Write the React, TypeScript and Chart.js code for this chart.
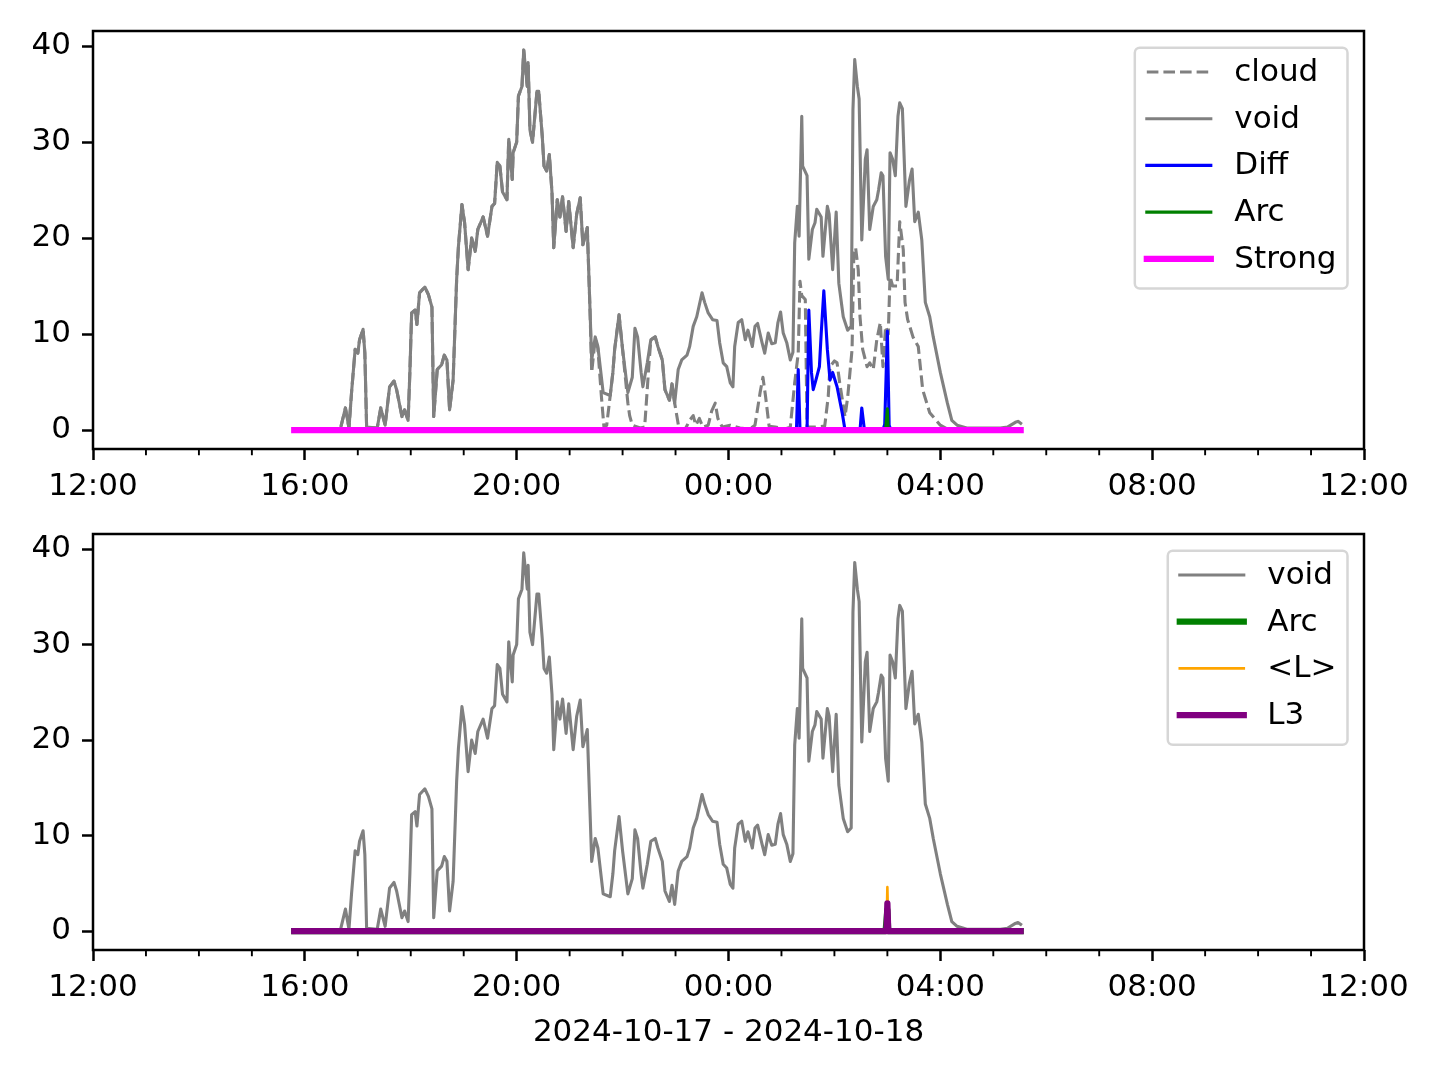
import React, { useEffect, useRef } from "react";
import { Chart, registerables } from "chart.js";

Chart.register(...registerables);

const FONT = "'DejaVu Sans', 'Liberation Sans', sans-serif";
const FONT_SIZE = 31;

// ---------------- data (times are clock times, 2024-10-17 12:00 .. 2024-10-18 12:00) ----------------
const xTickHours = [0, 4, 8, 12, 16, 20, 24];
const xTickLabels = ["12:00", "16:00", "20:00", "00:00", "04:00", "08:00", "12:00"];
const yTicks = [0, 10, 20, 30, 40];
const xLabel = "2024-10-17 - 2024-10-18";

const voidTimes = [
  "15:48", "16:40", "16:46", "16:50", "16:53", "16:57", "17:00", "17:02", "17:06", "17:08",
  "17:10", "17:22", "17:26", "17:31", "17:36", "17:41", "17:44", "17:50", "17:53", "17:57",
  "17:59", "18:01", "18:05", "18:07", "18:10", "18:16", "18:20", "18:24", "18:26", "18:30",
  "18:35", "18:38", "18:41", "18:44", "18:48", "18:52", "18:54", "18:58", "19:01", "19:05",
  "19:09", "19:13", "19:16", "19:22", "19:27", "19:32", "19:35", "19:38", "19:41", "19:44",
  "19:49", "19:51", "19:55", "19:56", "20:00", "20:02", "20:06", "20:08", "20:12", "20:13",
  "20:15", "20:18", "20:23", "20:25", "20:29", "20:31", "20:34", "20:37", "20:40", "20:42",
  "20:46", "20:49", "20:52", "20:56", "20:59", "21:04", "21:08", "21:12", "21:15", "21:20",
  "21:23", "21:25", "21:29", "21:32", "21:38", "21:46", "21:49", "21:51", "21:56", "22:00",
  "22:06", "22:11", "22:14", "22:17", "22:21", "22:23", "22:28", "22:32", "22:37", "22:40",
  "22:45", "22:48", "22:53", "22:56", "22:59", "23:03", "23:07", "23:13", "23:16", "23:20",
  "23:24", "23:30", "23:33", "23:37", "23:42", "23:47", "23:50", "23:54", "23:58", "00:02",
  "00:05", "00:07", "00:11", "00:15", "00:19", "00:22", "00:27", "00:30", "00:33", "00:38",
  "00:41", "00:45", "00:49", "00:53", "00:56", "00:59", "01:02", "01:06", "01:10", "01:13",
  "01:15", "01:18", "01:20", "01:23", "01:24", "01:29", "01:31", "01:35", "01:38", "01:40",
  "01:45", "01:47", "01:52", "01:54", "01:58", "02:02", "02:05", "02:10", "02:15", "02:19",
  "02:21", "02:23", "02:26", "02:28", "02:31", "02:35", "02:37", "02:40", "02:44", "02:48",
  "02:50", "02:53", "02:55", "02:58", "03:01", "03:03", "03:06", "03:09", "03:12", "03:14",
  "03:17", "03:21", "03:25", "03:28", "03:31", "03:35", "03:39", "03:43", "03:48", "03:52",
  "04:00", "04:08", "04:13", "04:19", "04:30", "05:08", "05:16", "05:25", "05:28", "05:31",
];
const voidValues = [
  0, 0, 2.3, 0.2, 4, 8.4, 8.0, 9.4, 10.5, 8,
  0.3, 0.2, 2.3, 0.5, 4.5, 5.1, 4.2, 1.4, 2.1, 1.0,
  6, 12.2, 12.5, 11, 14.3, 14.9, 14.1, 12.8, 1.4, 6.3,
  6.8, 7.8, 7.3, 2.1, 5.2, 15.7, 19.1, 23.5, 21.6, 16.7,
  20, 18.6, 20.9, 22.2, 20.2, 23.3, 23.6, 27.9, 27.5, 24.8,
  24, 30.3, 26.1, 28.9, 30, 34.8, 35.8, 39.6, 35.8, 38.3,
  31.3, 30, 35.3, 35.3, 30.6, 27.5, 27, 28.7, 24.8, 19,
  24, 22.2, 24.3, 20.7, 23.8, 19, 22.5, 24.2, 19.3, 21.1,
  12.8, 7.3, 9.7, 8.7, 3.9, 3.6, 6, 8.4, 12, 8.4,
  3.9, 5.5, 10.6, 9.7, 6, 4.5, 7, 9.4, 9.7, 8.7,
  7.3, 4.2, 3.1, 4.8, 2.8, 6.3, 7.3, 7.8, 8.7, 10.8,
  11.8, 14.3, 13.3, 12.2, 11.5, 11.4, 9.1, 7, 6.6, 4.9,
  4.5, 8.7, 11.2, 11.5, 9.4, 10.4, 8.7, 10.8, 11.1, 9.1,
  8, 10.1, 9.0, 9.1, 11.2, 12.3, 10.1, 9.1, 7.3, 8.1,
  19.5, 23.3, 20.2, 32.7, 27.5, 26.5, 17.8, 20.9, 21.6, 23,
  22.2, 18.1, 23.3, 22.5, 16.7, 22.7, 15.3, 11.8, 10.4, 10.8,
  33.4, 38.6, 35.8, 34.5, 19.8, 28.2, 29.2, 20.9, 23.3, 24,
  25, 26.8, 26.5, 18.1, 15.7, 28.9, 28.2, 26.5, 32.7, 34.1,
  33.5, 23.3, 26, 27.2, 21.7, 22.7, 19.8, 13.3, 11.8, 9.7,
  6, 2.8, 1.0, 0.5, 0.2, 0.2, 0.3, 0.8, 0.9, 0.7,
];

const cloudTimes = [
  "15:48", "16:40", "16:46", "16:50", "16:53", "16:57", "17:00", "17:02", "17:06", "17:08",
  "17:10", "17:22", "17:26", "17:31", "17:36", "17:41", "17:44", "17:50", "17:53", "17:57",
  "17:59", "18:01", "18:05", "18:07", "18:10", "18:16", "18:20", "18:24", "18:26", "18:30",
  "18:35", "18:38", "18:41", "18:44", "18:48", "18:52", "18:54", "18:58", "19:01", "19:05",
  "19:09", "19:13", "19:16", "19:22", "19:27", "19:32", "19:35", "19:38", "19:41", "19:44",
  "19:49", "19:51", "19:55", "19:56", "20:00", "20:02", "20:06", "20:08", "20:12", "20:13",
  "20:15", "20:18", "20:23", "20:25", "20:29", "20:31", "20:34", "20:37", "20:40", "20:42",
  "20:46", "20:49", "20:52", "20:56", "20:59", "21:04", "21:08", "21:12", "21:15", "21:20",
  "21:23", "21:25", "21:29", "21:32", "21:36", "21:39", "21:42", "21:46", "21:49", "21:51",
  "21:56", "22:00", "22:06", "22:08", "22:11", "22:20", "22:25", "22:30", "22:32", "22:37",
  "22:40", "22:45", "22:48", "22:53", "22:56", "22:59", "23:04", "23:11", "23:16", "23:20",
  "23:23", "23:27", "23:31", "23:37", "23:41", "23:45", "23:48", "23:53", "00:02", "00:13",
  "00:24", "00:30", "00:36", "00:39", "00:42", "00:46", "00:53", "01:04", "01:10", "01:15",
  "01:19", "01:21", "01:23", "01:27", "01:29", "01:38", "01:49", "01:53", "01:55", "02:00",
  "02:03", "02:06", "02:12", "02:15", "02:20", "02:22", "02:24", "02:27", "02:29", "02:32",
  "02:37", "02:40", "02:44", "02:48", "02:52", "02:55", "02:58", "03:01", "03:03", "03:06",
  "03:11", "03:14", "03:18", "03:20", "03:23", "03:29", "03:35", "03:40", "03:48", "04:00",
  "04:08", "05:31",
];
const cloudValues = [
  0, 0, 2.3, 0.2, 4, 8.4, 8.0, 9.4, 10.5, 8,
  0.3, 0.2, 2.3, 0.5, 4.5, 5.1, 4.2, 1.4, 2.1, 1.0,
  6, 12.2, 12.5, 11, 14.3, 14.9, 14.1, 12.8, 1.4, 6.3,
  6.8, 7.8, 7.3, 2.1, 5.2, 15.7, 19.1, 23.5, 21.6, 16.7,
  20, 18.6, 20.9, 22.2, 20.2, 23.3, 23.6, 27.9, 27.5, 24.8,
  24, 30.3, 26.1, 28.9, 30, 34.8, 35.8, 39.6, 35.8, 38.3,
  31.3, 30, 35.3, 35.3, 30.6, 27.5, 27, 28.7, 24.8, 19,
  24, 22.2, 24.3, 20.7, 23.8, 19, 22.5, 24.2, 19.3, 21.1,
  12.8, 6.0, 9.5, 8.5, 3.5, 0.2, 0.5, 3.6, 6, 8.4,
  12, 8.4, 2.8, 1.5, 0.5, 0.2, 0.3, 7, 9.4, 9.7,
  8.7, 7.3, 4.2, 3.1, 4.8, 2.8, 0.1, 0.1, 1.0, 1.5,
  0.5, 1.2, 0.3, 0.5, 2.0, 2.8, 1.2, 0.3, 0.5, 0.2,
  0.1, 0.5, 4.0, 5.5, 3.5, 0.4, 0.3, 0.1, 0.3, 4.9,
  8, 15.5, 14, 13.6, 0.3, 0.3, 0.4, 3.5, 6.6, 7.2,
  7, 4.9, 1.4, 3.4, 8.4, 18.5, 19, 16.7, 11.8, 8.4,
  6.6, 7, 6.3, 9.4, 11.2, 6.6, 10.8, 10, 16, 15,
  15, 21.7, 18.8, 13.3, 11.5, 9.7, 8.7, 4.2, 1.8, 0.5,
  0.1, 0,
];

const diffTimes = [
  "15:48", "01:17", "01:19", "01:21", "01:29", "01:31", "01:34", "01:36", "01:39", "01:43",
  "01:45", "01:48", "01:52", "01:55", "01:58", "02:03", "02:09", "02:12", "02:29", "02:31",
  "02:34", "02:55", "02:57", "03:00", "03:02", "03:04", "05:31",
];
const diffValues = [
  0, 0, 6.3, 0, 0, 12.5, 6, 4.2, 5.2, 6.6,
  10, 14.5, 8.4, 5.2, 6.0, 4.5, 1.7, 0, 0, 2.3,
  0, 0, 0.6, 10.3, 0.5, 0, 0,
];

const arcTimes = ["15:48", "02:58", "03:00", "03:01", "05:31"];
const arcValues = [0, 0, 2.2, 0, 0];

const strongTimes = ["15:48", "05:31"];
const strongValues = [0, 0];

const lMeanTimes = ["15:48", "02:59", "03:00", "03:01", "05:31"];
const lMeanValues = [0, 0, 4.6, 0, 0];

const l3Times = ["15:48", "02:59", "03:00", "03:01", "05:31"];
const l3Values = [0, 0, 2.9, 0, 0];

// ---------------- helpers ----------------
function toHours(t: string): number {
  const [hh, mm] = t.split(":").map(Number);
  return (hh >= 12 ? hh - 12 : hh + 12) + mm / 60;
}

function series(times: string[], values: number[]) {
  return times.map((t, i) => ({ x: toHours(t), y: values[i] }));
}

const dataMax = Math.max(...voidValues, ...cloudValues);
const yMin = -0.05 * dataMax;
const yMax = dataMax * 1.05;

type DS = {
  label: string;
  times: string[];
  values: number[];
  color: string;
  width: number;
  dash?: number[];
};

const mplPlugin = {
  id: "mpl",
  afterDraw(chart: any) {
    const { ctx, chartArea: a, scales } = chart;
    ctx.save();
    // minor x ticks
    ctx.strokeStyle = "#000";
    ctx.lineWidth = 1.9;
    for (let h = 1; h < 24; h++) {
      if (h % 4 === 0) continue;
      const x = scales.x.getPixelForValue(h);
      ctx.beginPath();
      ctx.moveTo(x, a.bottom);
      ctx.lineTo(x, a.bottom + 6.25);
      ctx.stroke();
    }
    // spines
    ctx.lineWidth = 2.5;
    ctx.strokeRect(a.left, a.top, a.right - a.left, a.bottom - a.top);

    // legend
    const items = chart.data.datasets;
    ctx.font = `${FONT_SIZE}px ${FONT}`;
    const textW = Math.max(...items.map((d: any) => ctx.measureText(d.label).width));
    const padL = 12, handle = 64, gap = 23.5, padR = 11;
    const rowH = 46.7;
    const w = padL + handle + gap + textW + padR;
    const h = 24.3 + (items.length - 1) * rowH + 29.7;
    const right = a.right - 16.5;
    const top = a.top + 16.7;
    const left = right - w;
    ctx.beginPath();
    ctx.roundRect(left, top, w, h, 5);
    ctx.fillStyle = "rgba(255,255,255,0.8)";
    ctx.fill();
    ctx.strokeStyle = "rgba(204,204,204,0.8)";
    ctx.lineWidth = 2.5;
    ctx.stroke();
    items.forEach((d: any, i: number) => {
      const y = top + 24.3 + i * rowH;
      ctx.beginPath();
      ctx.strokeStyle = d.borderColor;
      ctx.lineWidth = d.borderWidth;
      ctx.setLineDash(d.borderDash || []);
      ctx.lineCap = d.borderDash && d.borderDash.length ? "butt" : "square";
      ctx.moveTo(left + padL, y);
      ctx.lineTo(left + padL + handle, y);
      ctx.stroke();
      ctx.setLineDash([]);
      ctx.fillStyle = "#000";
      ctx.textBaseline = "middle";
      ctx.textAlign = "left";
      ctx.fillText(d.label, left + padL + handle + gap, y + 1);
    });
    ctx.restore();
  },
};

function buildConfig(list: DS[], padTop: number, padBottom: number, xHeight: number, showXLabel: boolean) {
  const n = list.length;
  const datasets = list.map((d, i) => ({
    label: d.label,
    data: series(d.times, d.values),
    borderColor: d.color,
    backgroundColor: d.color,
    borderWidth: d.width,
    borderDash: d.dash || [],
    borderCapStyle: d.dash ? "butt" : "square",
    borderJoinStyle: "round",
    pointRadius: 0,
    pointHoverRadius: 0,
    tension: 0,
    fill: false,
    order: n - i,
  }));
  const font = { family: FONT, size: FONT_SIZE };
  return {
    type: "line",
    data: { datasets },
    plugins: [mplPlugin],
    options: {
      animation: false,
      responsive: false,
      devicePixelRatio: 1,
      events: [],
      layout: { padding: { left: 0, right: 76, top: padTop, bottom: padBottom } },
      plugins: { legend: { display: false }, tooltip: { enabled: false }, title: { display: false } },
      scales: {
        x: {
          type: "linear",
          min: 0,
          max: 24,
          afterBuildTicks: (s: any) => {
            s.ticks = xTickHours.map((v) => ({ value: v }));
          },
          afterFit: (s: any) => {
            s.height = xHeight;
          },
          ticks: {
            callback: (_v: any, i: number) => xTickLabels[i],
            font,
            color: "#000",
            padding: 8,
            maxRotation: 0,
            autoSkip: false,
          },
          grid: {
            display: true,
            drawOnChartArea: false,
            drawTicks: true,
            tickLength: 11,
            tickWidth: 2.5,
            tickColor: "#000",
          },
          border: { display: false },
          title: { display: showXLabel, text: xLabel, font, color: "#000", padding: 0 },
        },
        y: {
          type: "linear",
          min: yMin,
          max: yMax,
          afterBuildTicks: (s: any) => {
            s.ticks = yTicks.map((v) => ({ value: v }));
          },
          afterFit: (s: any) => {
            s.width = 93;
          },
          ticks: { font, color: "#000", padding: 11, callback: (v: any) => String(v) },
          grid: {
            display: true,
            drawOnChartArea: false,
            drawTicks: true,
            tickLength: 11,
            tickWidth: 2.5,
            tickColor: "#000",
          },
          border: { display: false },
        },
      },
    },
  };
}

const topSeries: DS[] = [
  { label: "cloud", times: cloudTimes, values: cloudValues, color: "#808080", width: 3.1, dash: [11.6, 5] },
  { label: "void", times: voidTimes, values: voidValues, color: "#808080", width: 3.1 },
  { label: "Diff", times: diffTimes, values: diffValues, color: "#0000ff", width: 3.1 },
  { label: "Arc", times: arcTimes, values: arcValues, color: "#008000", width: 3.1 },
  { label: "Strong", times: strongTimes, values: strongValues, color: "#ff00ff", width: 6.25 },
];

const bottomSeries: DS[] = [
  { label: "void", times: voidTimes, values: voidValues, color: "#808080", width: 3.1 },
  { label: "Arc", times: arcTimes, values: arcValues, color: "#008000", width: 6.25 },
  { label: "<L>", times: lMeanTimes, values: lMeanValues, color: "#ffa500", width: 2.6 },
  { label: "L3", times: l3Times, values: l3Values, color: "#800080", width: 6.25 },
];

function Panel(props: { top: number; height: number; list: DS[]; padTop: number; padBottom: number; xHeight: number; showXLabel: boolean }) {
  const ref = useRef<HTMLCanvasElement>(null);
  useEffect(() => {
    const cfg: any = buildConfig(props.list, props.padTop, props.padBottom, props.xHeight, props.showXLabel);
    const chart = new Chart(ref.current as HTMLCanvasElement, cfg);
    return () => chart.destroy();
  }, []);
  return (
    <canvas
      ref={ref}
      width={1440}
      height={props.height}
      style={{ position: "absolute", left: 0, top: props.top, width: 1440, height: props.height, display: "block" }}
    />
  );
}

export default function App() {
  return (
    <div style={{ position: "absolute", left: 0, top: 0, width: 1440, height: 1080, background: "#fff", overflow: "hidden" }}>
      <Panel top={0} height={500} list={topSeries} padTop={31} padBottom={0} xHeight={51} showXLabel={false} />
      <Panel top={500} height={580} list={bottomSeries} padTop={34} padBottom={28} xHeight={102} showXLabel={true} />
    </div>
  );
}
